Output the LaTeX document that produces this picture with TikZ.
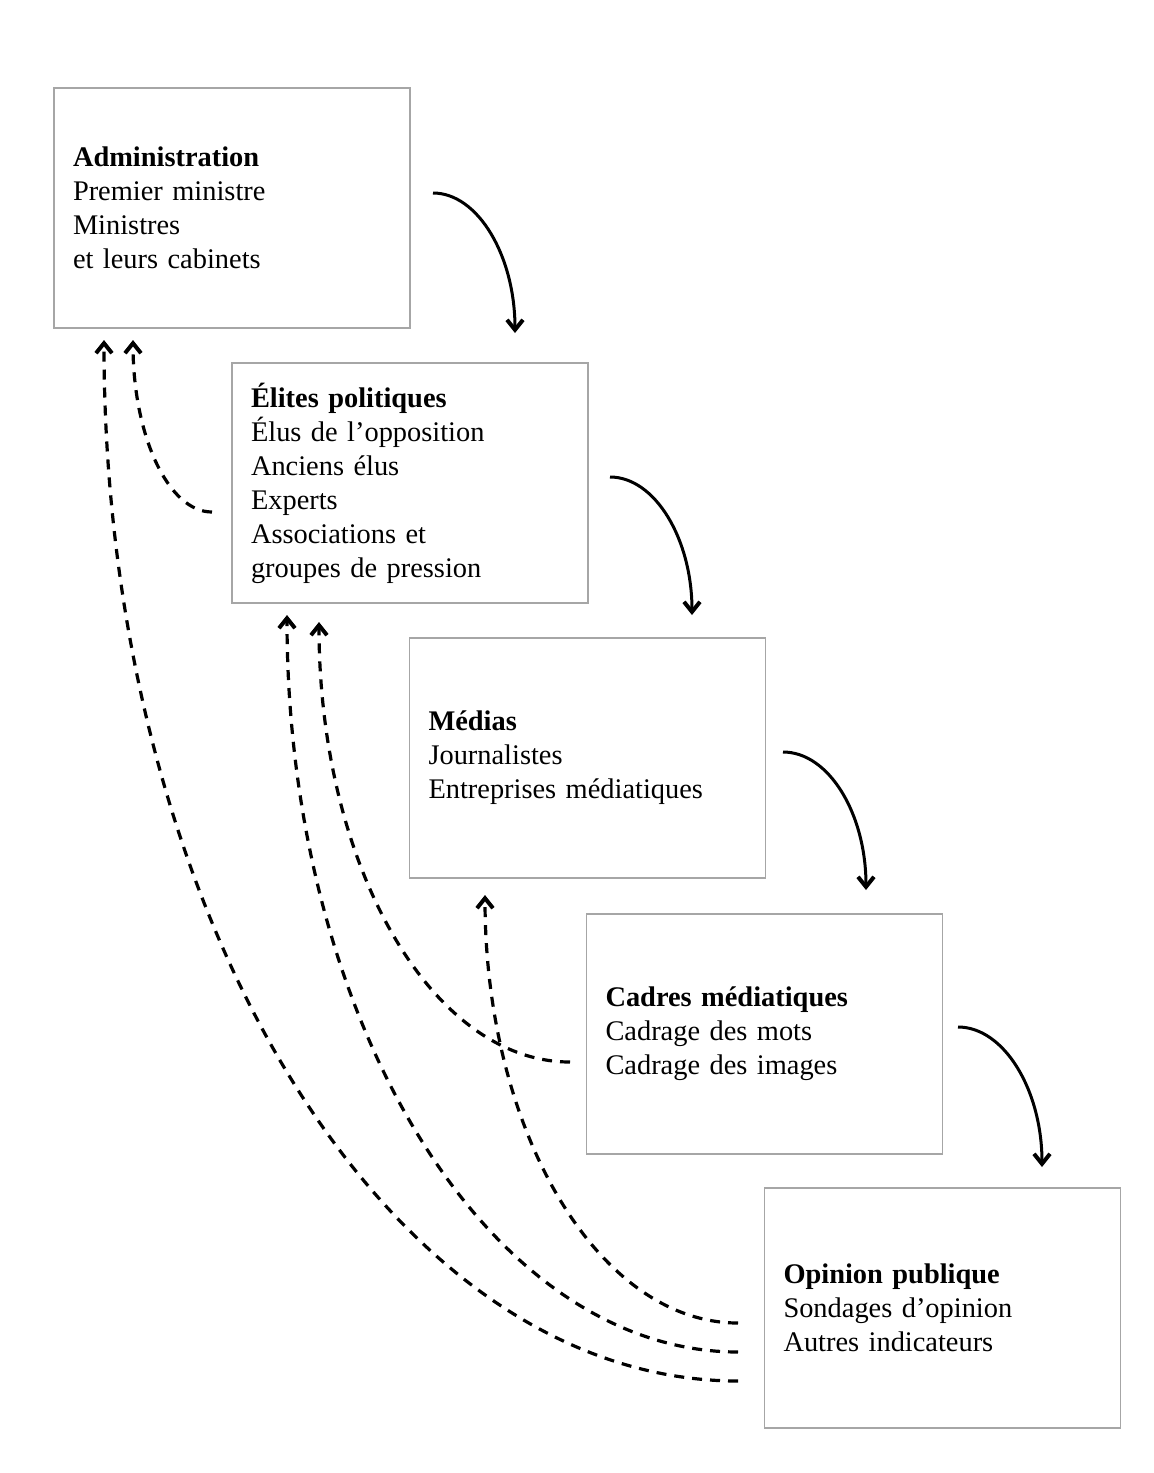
\documentclass[tikz,border=0pt]{standalone}
\usepackage{fontspec}
\setmainfont{Liberation Serif}
\usetikzlibrary{arrows.meta}
\begin{document}
\begin{tikzpicture}[x=0.5pt,y=-0.5pt,
  box/.style={draw=black!35,line width=0.8pt,minimum width=178pt,minimum height=120pt,
    text width=159pt,inner xsep=9.5pt,inner ysep=0pt,align=left,
    font=\fontsize{14.2pt}{17pt}\selectfont},
  tip/.style={-{Straight Barb[length=5pt,width=8pt,line width=2pt]}},
  flow/.style={tip,line width=1.5pt},
  back/.style={tip,line width=1.6pt,dash pattern=on 5pt off 4pt}]
\fill[white] (0,0) rectangle (1154,1473);
\node[box] (adm) at (232,208) {\textbf{Administration}\\Premier ministre\\Ministres\\et leurs cabinets};
\node[box] (eli) at (410,483) {\textbf{Élites politiques}\\Élus de l’opposition\\Anciens élus\\Experts\\Associations et\\groupes de pression};
\node[box] (med) at (587.5,758) {\textbf{Médias}\\Journalistes\\Entreprises médiatiques};
\node[box] (cad) at (764.5,1034) {\textbf{Cadres médiatiques}\\Cadrage des mots\\Cadrage des images};
\node[box] (opi) at (942.5,1308) {\textbf{Opinion publique}\\Sondages d’opinion\\Autres indicateurs};
% solid flow arrows
\coordinate (a1s) at (433,193); \coordinate (a1e) at (515,333);
\coordinate (a2s) at (610,477); \coordinate (a2e) at (692,615);
\coordinate (a3s) at (783,752); \coordinate (a3e) at (866,890);
\coordinate (a4s) at (958,1027); \coordinate (a4e) at (1042,1167);
\draw[flow] (a1s) .. controls +(45,0) and +(0,-77) .. (a1e);
\draw[flow] (a2s) .. controls +(45,0) and +(0,-76) .. (a2e);
\draw[flow] (a3s) .. controls +(46,0) and +(0,-76) .. (a3e);
\draw[flow] (a4s) .. controls +(46,0) and +(0,-77) .. (a4e);
% dashed feedback arrows
\coordinate (d1s) at (212,512); \coordinate (d1e) at (133,340);
\coordinate (d2s) at (738,1381); \coordinate (d2e) at (104,340);
\coordinate (d3s) at (738,1352); \coordinate (d3e) at (287,615);
\coordinate (d4s) at (570,1062); \coordinate (d4e) at (319,622);
\coordinate (d5s) at (738,1323); \coordinate (d5e) at (485,895);
\draw[back] (d1s) .. controls +(-44,0) and +(0,95) .. (d1e);
\draw[back] (d2s) .. controls +(-350,0) and +(0,575) .. (d2e);
\draw[back] (d3s) .. controls +(-249,0) and +(0,407) .. (d3e);
\draw[back] (d4s) .. controls +(-139,0) and +(0,243) .. (d4e);
\draw[back] (d5s) .. controls +(-140,0) and +(0,236) .. (d5e);
\end{tikzpicture}
\end{document}
